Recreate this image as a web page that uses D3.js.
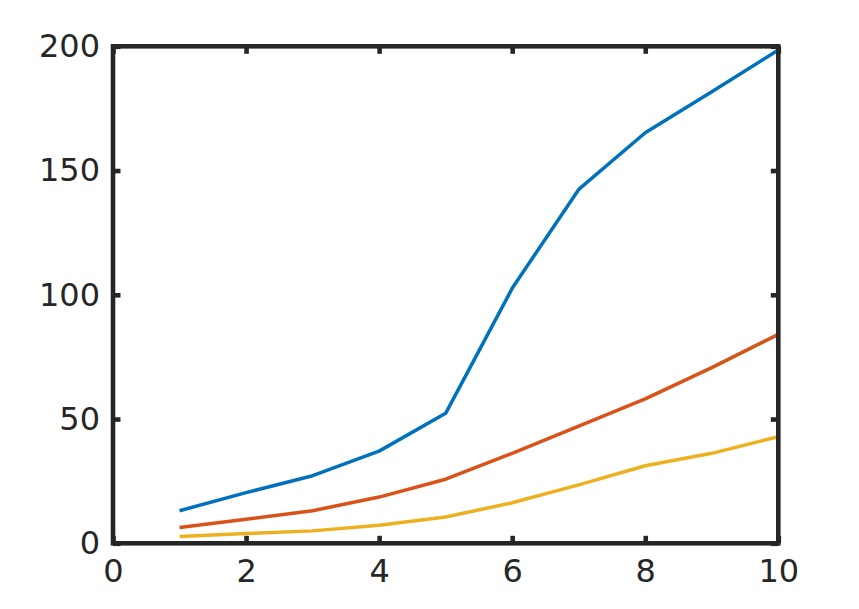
<!DOCTYPE html>
<html>
<head>
<meta charset="utf-8">
<script src="https://cdn.jsdelivr.net/npm/d3@7"></script>
<style>
  html, body { margin: 0; padding: 0; background: #fff; }
  svg { display: block; }
</style>
</head>
<body>
<svg id="chart" width="859" height="609"></svg>
<script>
const xValues = [1, 2, 3, 4, 5, 6, 7, 8, 9, 10];
const seriesBlue = [13.1, 20.4, 27.2, 37.1, 52.3, 102.6, 142.4, 165.2, 181.7, 198.5];
const seriesRed = [6.4, 9.7, 13.1, 18.6, 25.8, 36.2, 47.2, 58.1, 70.7, 84.1];
const seriesYellow = [2.7, 3.9, 5.0, 7.3, 10.6, 16.3, 23.5, 31.2, 36.2, 42.9];
const xTicks = [0, 2, 4, 6, 8, 10];
const yTicks = [0, 50, 100, 150, 200];
const seriesColors = ["#0072BD", "#D95319", "#EDB120"];

const svg = d3.select("#chart");
const pLeft = 113, pRight = 778.3, pTop = 46.3, pBottom = 543.3;
const axisColor = "#262626";

const x = d3.scaleLinear().domain([0, 10]).range([pLeft, pRight]);
const y = d3.scaleLinear().domain([0, 200]).range([pBottom, pTop]);

const line = d3.line().x((d, i) => x(xValues[i])).y(d => y(d));

const series = [seriesBlue, seriesRed, seriesYellow];
const plot = svg.append("g");
series.forEach((s, k) => {
  plot.append("path")
    .datum(s)
    .attr("d", line)
    .attr("fill", "none")
    .attr("stroke", seriesColors[k])
    .attr("stroke-width", 3.5)
    .attr("stroke-linejoin", "round");
});

const tickLen = 7.5;
const font = "'DejaVu Sans', sans-serif";

// Bottom axis
const xAxisBottom = d3.axisBottom(x).tickValues(xTicks).tickSize(-tickLen).tickPadding(16).tickFormat(d3.format("d"));
const gxb = svg.append("g").attr("transform", `translate(0,${pBottom})`).call(xAxisBottom);
// Top axis
const xAxisTop = d3.axisTop(x).tickValues(xTicks).tickSize(-tickLen).tickFormat("");
const gxt = svg.append("g").attr("transform", `translate(0,${pTop})`).call(xAxisTop);
// Left axis
const yAxisLeft = d3.axisLeft(y).tickValues(yTicks).tickSize(-tickLen).tickPadding(13).tickFormat(d3.format("d"));
const gyl = svg.append("g").attr("transform", `translate(${pLeft},0)`).call(yAxisLeft);
// Right axis
const yAxisRight = d3.axisRight(y).tickValues(yTicks).tickSize(-tickLen).tickFormat("");
const gyr = svg.append("g").attr("transform", `translate(${pRight},0)`).call(yAxisRight);

[gxb, gxt, gyl, gyr].forEach(g => {
  g.select(".domain").remove();
  g.selectAll(".tick line").attr("stroke", axisColor).attr("stroke-width", 4.6);
  g.selectAll(".tick text")
    .attr("fill", axisColor)
    .style("font-family", font)
    .style("font-size", "32px");
});
gxb.selectAll(".tick text").attr("dy", "0.71em");

// Box
svg.append("rect")
  .attr("x", pLeft).attr("y", pTop)
  .attr("width", pRight - pLeft).attr("height", pBottom - pTop)
  .attr("fill", "none")
  .attr("stroke", axisColor)
  .attr("stroke-width", 4.6);
</script>
</body>
</html>
